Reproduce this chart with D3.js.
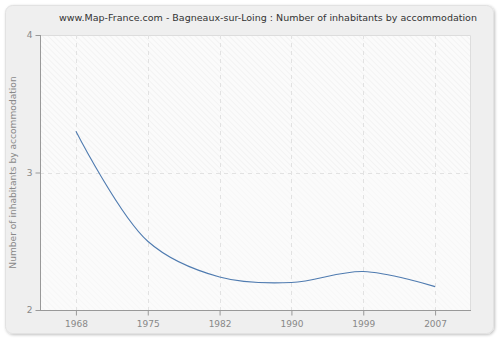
<!DOCTYPE html>
<html>
<head>
<meta charset="utf-8">
<script src="https://cdn.jsdelivr.net/npm/d3@7/dist/d3.min.js"></script>
<style>
  html, body { margin: 0; padding: 0; background: #ffffff; }
  svg { display: block; }
  text { font-family: "DejaVu Sans", Verdana, sans-serif; }
</style>
</head>
<body>
<svg id="chart" width="500" height="340"></svg>
<script>
// Census years and average number of inhabitants per dwelling
const years = ["1968", "1975", "1982", "1990", "1999", "2007"];
const inhabitants = [3.3, 2.5, 2.24, 2.2, 2.28, 2.17];
const yTicks = [2, 3, 4];

const title = "www.Map-France.com - Bagneaux-sur-Loing : Number of inhabitants by accommodation";
const yLabel = "Number of inhabitants by accommodation";

const W = 500, H = 340;
const plot = { left: 40, right: 471, top: 35, bottom: 310 };

const svg = d3.select("#chart");
const defs = svg.append("defs");

// Diagonal hatching used inside the plotting area
const hatch = defs.append("pattern")
  .attr("id", "hatch")
  .attr("patternUnits", "userSpaceOnUse")
  .attr("width", 4).attr("height", 4)
  .attr("patternTransform", "rotate(-45)");
hatch.append("rect").attr("width", 4).attr("height", 4).attr("fill", "#fbfbfb");
hatch.append("line").attr("x1", 0).attr("y1", 0).attr("x2", 0).attr("y2", 4)
  .attr("stroke", "#ececec").attr("stroke-width", 1);

const hatchLight = defs.append("pattern")
  .attr("id", "hatchLight")
  .attr("patternUnits", "userSpaceOnUse")
  .attr("width", 4).attr("height", 4)
  .attr("patternTransform", "rotate(-45)");
hatchLight.append("rect").attr("width", 4).attr("height", 4).attr("fill", "#fbfbfb");
hatchLight.append("line").attr("x1", 0).attr("y1", 0).attr("x2", 0).attr("y2", 4)
  .attr("stroke", "#f3f3f3").attr("stroke-width", 1);

const shadow = defs.append("filter").attr("id", "shadow")
  .attr("x", "-5%").attr("y", "-5%").attr("width", "110%").attr("height", "110%");
shadow.append("feGaussianBlur").attr("in", "SourceAlpha").attr("stdDeviation", 1.5);
shadow.append("feOffset").attr("dx", 1).attr("dy", 1).attr("result", "b");
shadow.append("feComponentTransfer").append("feFuncA").attr("type", "linear").attr("slope", 0.25);
const merge = shadow.append("feMerge");
merge.append("feMergeNode");
merge.append("feMergeNode").attr("in", "SourceGraphic");

// Outer panel
svg.append("rect")
  .attr("x", 5.5).attr("y", 5.5).attr("width", 488).attr("height", 328)
  .attr("rx", 7).attr("ry", 7)
  .attr("fill", "#efefef").attr("stroke", "#e2e2e2")
  .attr("filter", "url(#shadow)");

// Scales
const x = d3.scalePoint().domain(years).range([plot.left, plot.right]).padding(0.5);
const y = d3.scaleLinear().domain([2, 4]).range([plot.bottom, plot.top]);

// Plot background: denser hatching above the middle gridline
svg.append("rect")
  .attr("x", plot.left).attr("y", plot.top)
  .attr("width", plot.right - plot.left).attr("height", plot.bottom - plot.top)
  .attr("fill", "url(#hatchLight)");
svg.append("rect")
  .attr("x", plot.left).attr("y", plot.top)
  .attr("width", plot.right - plot.left).attr("height", y(3) - plot.top)
  .attr("fill", "url(#hatch)");

// Top and right frame
svg.append("path")
  .attr("d", `M${plot.left},${plot.top + 0.5}H${plot.right - 0.5}V${plot.bottom}`)
  .attr("fill", "none").attr("stroke", "#dddddd");

// Gridlines
svg.append("g").selectAll("line").data(years).join("line")
  .attr("x1", d => Math.round(x(d)) + 0.5).attr("x2", d => Math.round(x(d)) + 0.5)
  .attr("y1", plot.top).attr("y2", plot.bottom)
  .attr("stroke", "#e2e2e2").attr("stroke-dasharray", "4,4");
svg.append("g").selectAll("line").data(yTicks.slice(1, -1)).join("line")
  .attr("x1", plot.left).attr("x2", plot.right)
  .attr("y1", d => Math.round(y(d)) + 0.5).attr("y2", d => Math.round(y(d)) + 0.5)
  .attr("stroke", "#e2e2e2").attr("stroke-dasharray", "4,4");

// Axes
const xAxis = svg.append("g")
  .attr("transform", `translate(0,${plot.bottom + 0.5})`)
  .call(d3.axisBottom(x).tickSize(5).tickSizeOuter(0));
const yAxis = svg.append("g")
  .attr("transform", `translate(${plot.left + 0.5},0)`)
  .call(d3.axisLeft(y).tickValues(yTicks).tickFormat(d3.format("d")).tickSize(5).tickSizeOuter(0));

[xAxis, yAxis].forEach(g => {
  g.select(".domain").attr("stroke", "#999999");
  g.selectAll(".tick line").attr("stroke", "#999999");
  g.selectAll(".tick text")
    .attr("fill", "#888888")
    .style("font-family", "\"DejaVu Sans\", Verdana, sans-serif")
    .style("font-size", "9px");
});
xAxis.select(".domain").attr("d", `M${plot.left},0H${plot.right}`);
yAxis.select(".domain").attr("d", `M0,${plot.top}V${plot.bottom}`);
xAxis.selectAll(".tick text").attr("dy", "1.1em").attr("y", 7);
yAxis.selectAll(".tick text").attr("x", -8);

// Data line
const line = d3.line()
  .x((d, i) => x(years[i]))
  .y(d => y(d))
  .curve(d3.curveCatmullRom.alpha(0.5));

svg.append("path")
  .datum(inhabitants)
  .attr("d", line)
  .attr("fill", "none")
  .attr("stroke", "#4f7bb0")
  .attr("stroke-width", 1.1);

// Title
svg.append("text")
  .attr("x", 268).attr("y", 21)
  .attr("text-anchor", "middle")
  .attr("fill", "#333333")
  .style("font-size", "9.5px")
  .text(title);

// Y axis label
svg.append("text")
  .attr("transform", `translate(16,${(plot.top + plot.bottom) / 2}) rotate(-90)`)
  .attr("text-anchor", "middle")
  .attr("fill", "#888888")
  .style("font-size", "9.1px")
  .text(yLabel);
</script>
</body>
</html>
